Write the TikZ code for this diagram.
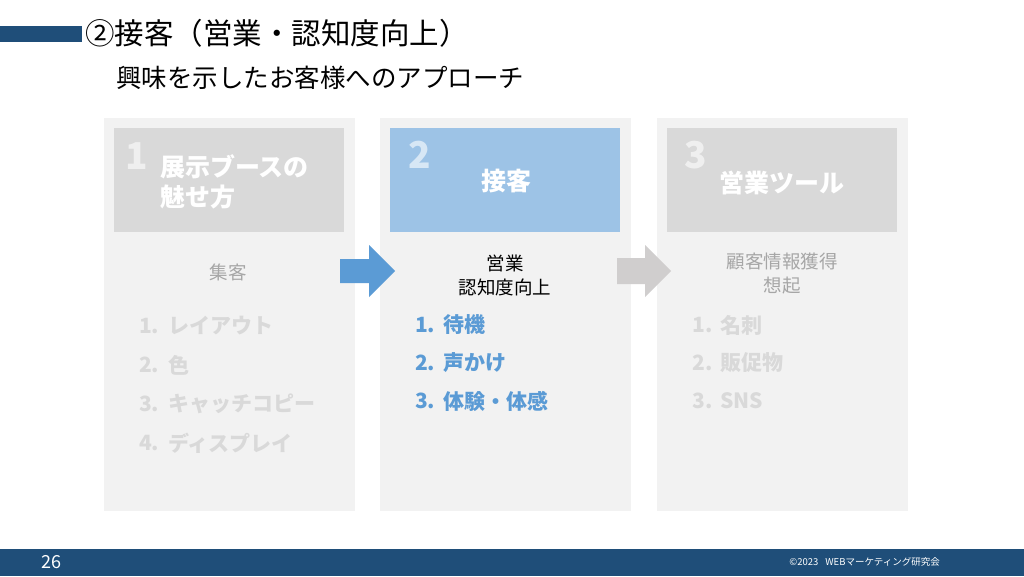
\documentclass[tikz,border=0pt]{standalone}
\usepackage{fontspec}
\setmainfont{Noto Sans CJK JP}
\usetikzlibrary{positioning}
\definecolor{navy}{HTML}{1F4E79}
\definecolor{panelgray}{HTML}{F2F2F2}
\definecolor{headgray}{HTML}{D9D9D9}
\definecolor{headblue}{HTML}{9DC3E6}
\definecolor{stepblue}{HTML}{5B9BD5}
\definecolor{stepgray}{HTML}{D0CECE}
\definecolor{subgray}{HTML}{A6A6A6}
\definecolor{listgray}{HTML}{D9D9D9}
\newcommand{\fsz}[2]{\fontsize{#1}{#2}\selectfont}

\begin{document}
\begin{tikzpicture}[x=1pt,y=-1pt,
  panel/.style={fill=panelgray,minimum width=251pt,minimum height=393pt,inner sep=0pt},
  head/.style={minimum width=230pt,minimum height=104pt,inner sep=0pt},
  num/.style={text=white,text opacity=0.6,font=\fsz{37}{40}\bfseries,inner sep=0pt},
  headtext/.style={text=white,font=\fsz{25}{30}\bfseries,inner sep=0pt,align=center},
  subtext/.style={font=\fsz{18.5}{24},inner sep=0pt,align=center},
  item/.style={font=\fsz{21}{24}\bfseries,inner sep=0pt,anchor=west}]
  \useasboundingbox (0,0) rectangle (1024,576);
  \fill[white] (0,0) rectangle (1024,576);

  % title
  \fill[navy] (0,26) rectangle (82,42);
  \node (title) at (85,33) [anchor=west,inner sep=0pt,font=\fsz{29.5}{34}] {②接客（営業・認知度向上）};
  \node (subtitle) at (116,78) [anchor=west,inner sep=0pt,font=\fsz{25.5}{30}] {興味を示したお客様へのアプローチ};

  % panels
  \node (p1) at (229.5,314.5) [panel] {};
  \node (p2) at (505.5,314.5) [panel] {};
  \node (p3) at (782.5,314.5) [panel] {};
  \node (h1) at (229,180) [head,fill=headgray] {};
  \node (h2) at (505,180) [head,fill=headblue] {};
  \node (h3) at (782,180) [head,fill=headgray] {};
  \node (n1) at (137,156) [num] {1};
  \node (n2) at (420,155) [num] {2};
  \node (n3) at (696,155) [num] {3};
  \node (t1) at (160,182) [headtext,align=left,anchor=west] {展示ブースの\\魅せ方};
  \node (t2) at (506,181) [headtext] {接客};
  \node (t3) at (782,183) [headtext] {営業ツール};

  \node (s1) at (228,272) [subtext,text=subgray] {集客};
  \node (s2) at (505,275) [subtext,text=black] {営業\\認知度向上};
  \node (s3) at (782,274) [subtext,text=subgray] {顧客情報獲得\\想起};

  % lists
  \foreach \t [count=\i] in {レイアウト,色,キャッチコピー,ディスプレイ}
    {\node (a\i) at (139,{287+39*\i}) [item,text=listgray] {\i.};
     \node (at\i) at (168,{287+39*\i}) [item,text=listgray] {\t};}
  \foreach \t [count=\i] in {待機,声かけ,体験・体感}
    {\node (b\i) at (415,{287+38*\i}) [item,text=stepblue] {\i.};
     \node (bt\i) at (443,{287+38*\i}) [item,text=stepblue] {\t};}
  \foreach \t [count=\i] in {名刺,販促物,SNS}
    {\node (c\i) at (692,{287+38*\i}) [item,text=listgray] {\i.};
     \node (ct\i) at (720,{287+38*\i}) [item,text=listgray] {\t};}

  % arrows
  \coordinate (g1) at (340,271);
  \coordinate (g2) at (617,271);
  \fill[stepblue] (g1) ++(0,-12) -- ++(29,0) -- ++(0,-14) -- ++(26,26) -- ++(-26,26) -- ++(0,-14) -- ++(-29,0) -- cycle;
  \fill[stepgray] (g2) ++(0,-13) -- ++(28,0) -- ++(0,-13) -- ++(26,26) -- ++(-26,26) -- ++(0,-13) -- ++(-28,0) -- cycle;

  % footer
  \fill[navy] (0,549) rectangle (1024,576);
  \node (page) at (51,562) [text=white,inner sep=0pt,font=\fsz{18}{20}] {26};
  \node (copy) at (940,562) [anchor=east,text=white,inner sep=0pt,font=\fsz{9.5}{11}] {©2023\hspace{7pt}WEBマーケティング研究会};
\end{tikzpicture}
\end{document}
